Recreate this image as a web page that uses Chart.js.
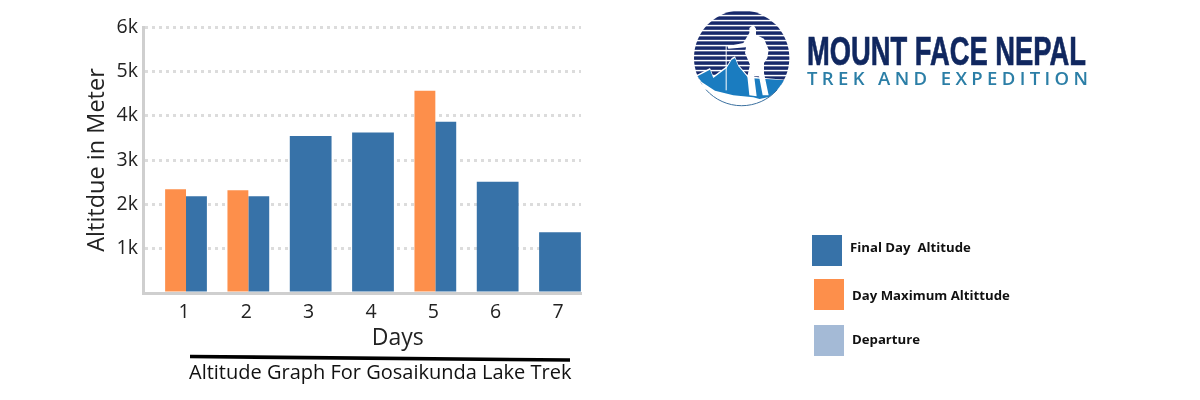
<!DOCTYPE html>
<html><head><meta charset="utf-8">
<script src="https://cdn.jsdelivr.net/npm/chart.js@4/dist/chart.umd.min.js"></script>
<style>
html,body{margin:0;padding:0;background:#fff;width:1200px;height:400px;overflow:hidden}
#wrap{position:relative;width:1200px;height:400px}
canvas{position:absolute;left:0;top:0}
.t{position:absolute;white-space:pre;font-family:"Open Sans",sans-serif;color:#111}
.sw{position:absolute;width:30px;height:31px}
.lg{position:absolute;white-space:pre;font:700 13.2px "Open Sans",sans-serif;color:#111}
svg{position:absolute;left:0;top:0}
</style></head><body>
<div id="wrap">
<canvas id="c" width="1200" height="400"></canvas>
<svg width="1200" height="400" viewBox="0 0 1200 400">
  <defs><clipPath id="disc"><circle cx="155" cy="150" r="143"/></clipPath></defs>
  <line x1="190" y1="356.5" x2="570" y2="360" stroke="#000" stroke-width="3.6"/>
  <g transform="translate(690 8) scale(0.33333)">
    <g clip-path="url(#disc)">
      <g id="stripes" fill="#17296b"></g>
      <path d="M0 215 L22 200 L60 180 L70 205 L110 175 L125 150 L135 145 L145 170 L175 205 L310 218 L310 300 L0 300 Z" fill="#fff"/>
      <path d="M22 205 L60 185 L70 210 L110 180 L125 155 L135 150 L145 175 L175 210 L310 218 L310 300 L190 268 L130 262 L75 248 L35 222 Z" fill="#1a7cc0"/>
      <path d="M178 60 L190 50 L198 62 L198 80 L222 92 L236 125 L232 150 L222 165 L222 195 L236 262 L218 262 L207 205 L192 200 L200 265 L178 262 L172 205 L180 170 L165 135 L168 118 L115 122 L112 115 L160 105 L172 85 L178 75 Z" fill="#fff"/>
      <rect x="107" y="112" width="3" height="135" fill="#fff"/>
      <path d="M0 240 L40 232 L80 255 L140 268 L200 275 L310 250 L310 300 L0 300 Z" fill="#fff"/>
    </g>
    <path d="M48 245 A143 143 0 0 0 262 245" fill="none" stroke="#3a6f9f" stroke-width="3"/>
  </g>
  <text x="807" y="65" font-family="Liberation Sans Narrow, Liberation Sans" font-weight="700" font-size="41" fill="#10275f" stroke="#10275f" stroke-width="0.7" textLength="279" lengthAdjust="spacingAndGlyphs">MOUNT FACE NEPAL</text>
  <text x="807" y="85" font-family="Open Sans, sans-serif" font-weight="600" font-size="18.5" fill="#2b7ea6" textLength="281" lengthAdjust="spacing">TREK AND EXPEDITION</text>
</svg>
<div class="t" style="left:189px;top:359px;font-size:20px;line-height:26px">Altitude Graph For Gosaikunda Lake Trek</div>
<div id="legend"></div>
</div>
<script>
const days = [1, 2, 3, 4, 5, 6, 7];
const finalDayAltitude = [2180, 2180, 3540, 3620, 3860, 2510, 1370];
const dayMaximumAltitude = [2340, 2320, null, null, 4560, null, null];
const departure = [null, null, null, null, null, null, null];
const seriesNames = ['Final Day  Altitude', 'Day Maximum Altittude', 'Departure'];
const seriesColors = ['#3772a8', '#fd8f4b', '#a4bad6'];
const yTicks = [1000, 2000, 3000, 4000, 5000, 6000];

document.getElementById('stripes').innerHTML = Array.from({length: 15}, (_, i) =>
  `<rect x="0" y="${10 + i * 15}" width="310" height="10.5"/>`).join('');

const toXY = arr => arr.map((v, i) => ({x: days[i], y: v}));
const fixX = s => { s.height = 70; s.paddingLeft = s.paddingRight = s.paddingTop = s.paddingBottom = 0; };
const fixY = s => { s.width = 60; s.paddingLeft = s.paddingRight = s.paddingTop = s.paddingBottom = 0; };
const tickFont = {family: '"Open Sans", sans-serif', size: 19.5};
const titleFont = {family: '"Open Sans", sans-serif', size: 23};

new Chart(document.getElementById('c'), {
  type: 'bar',
  data: {
    datasets: [
      {label: seriesNames[1], data: toXY(dayMaximumAltitude), backgroundColor: seriesColors[1]},
      {label: seriesNames[0], data: toXY(finalDayAltitude), backgroundColor: seriesColors[0]},
      {label: seriesNames[2], data: toXY(departure), backgroundColor: seriesColors[2]}
    ]
  },
  options: {
    responsive: false,
    animation: false,
    skipNull: true,
    categoryPercentage: 0.67,
    barPercentage: 1,
    layout: {padding: {left: 83, right: 619, top: 27, bottom: 37}},
    plugins: {legend: {display: false}, tooltip: {enabled: false}, title: {display: false}},
    scales: {
      x: {
        type: 'linear', offset: false, min: 0.31, max: 7.337, afterFit: fixX,
        grid: {display: false},
        border: {color: '#cfcfcf', width: 3},
        ticks: {stepSize: 1, includeBounds: false, font: tickFont, color: '#222', padding: 0, labelOffset: -2, maxRotation: 0,
                callback: v => String(v)},
        title: {display: true, text: ' '.repeat(12) + 'Days', font: titleFont, color: '#222', padding: {top: 0, bottom: 11}}
      },
      y: {
        min: 0, max: 6000, afterFit: fixY,
        afterBuildTicks: s => { s.ticks = [0, ...yTicks].map(value => ({value})); },
        grid: {color: '#dcdcdc', lineWidth: 3, drawTicks: false},
        border: {color: '#cfcfcf', width: 3, dash: [3, 4]},
        ticks: {font: tickFont, color: '#222', padding: 5, callback: v => v === 0 ? '' : (v / 1000) + 'k'},
        title: {display: true, text: 'Altitdue in Meter', font: {family: '"Open Sans", sans-serif', size: 23.5}, color: '#222', padding: 0}
      }
    }
  }
});

const legendPos = [[812, 235, 850, 238], [814, 279, 852, 286], [814, 325, 852, 330]];
document.getElementById('legend').innerHTML = seriesNames.map((n, i) => {
  const p = legendPos[i];
  return `<div class="sw" style="left:${p[0]}px;top:${p[1]}px;background:${seriesColors[i]}"></div>` +
         `<div class="lg" style="left:${p[2]}px;top:${p[3]}px">${n}</div>`;
}).join('');
</script>
</body></html>
